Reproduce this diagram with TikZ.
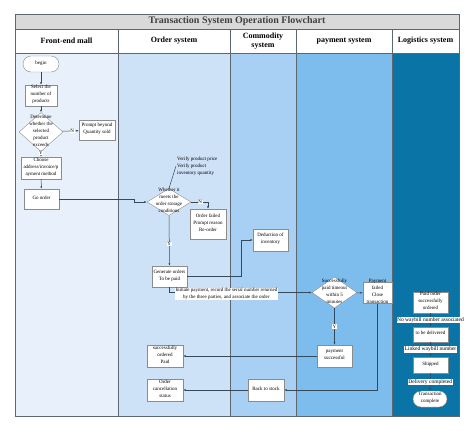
\documentclass[tikz,border=0pt]{standalone}
\usepackage{fontspec}
\setmainfont{Liberation Serif}
\usetikzlibrary{calc}
\usetikzlibrary{positioning}
\usetikzlibrary{shapes.geometric}
\usetikzlibrary{arrows.meta}
\definecolor{laneA}{HTML}{E8F1FB}
\definecolor{laneB}{HTML}{CDE2F7}
\definecolor{laneC}{HTML}{A8CFF4}
\definecolor{laneD}{HTML}{7DBDEE}
\definecolor{laneE}{HTML}{0B74A7}
\definecolor{titlegray}{HTML}{D9D9D9}
\definecolor{boxgray}{HTML}{8C8C8C}
\definecolor{linegray}{HTML}{34495C}
\definecolor{framegray}{HTML}{5E6670}
\tikzstyle{procnode} = [draw=boxgray, fill=white, rectangle, inner sep=0pt, minimum width=35pt, minimum height=21pt]
\tikzstyle{decnode} = [draw=boxgray, fill=white, diamond, inner sep=0pt, minimum width=44pt, minimum height=28pt]
\tikzstyle{termnode} = [procnode, rounded corners=8pt, minimum height=16pt]
\tikzstyle{flowline} = [draw=linegray, line width=0.5pt, ->]
\tikzstyle{flowlabel} = [fill=white, inner sep=0.5pt]
\tikzstyle{loglabel} = [fill=white, inner sep=0.6pt, font=\fontsize{5.5}{6.5}\selectfont]
\tikzstyle{lanehead} = [font=\bfseries\fontsize{8}{9}\selectfont, align=center]
\newcommand{\boxtext}[1]{\makebox[0pt]{\smash{\begin{tabular}{@{}c@{}}#1\end{tabular}}}}

\begin{document}
\begin{tikzpicture}[x=1pt, y=-1pt, >={Latex[length=2.4pt,width=2pt]}, font=\fontsize{5}{7}\selectfont]
    \useasboundingbox (0,0) rectangle (474,431);

    % swimlanes
    \fill[laneA] (15,53) rectangle (118,416);
    \fill[laneB] (118,53) rectangle (230,416);
    \fill[laneC] (230,53) rectangle (296,416);
    \fill[laneD] (296,53) rectangle (392,416);
    \fill[laneE] (392,53) rectangle (459,416);
    \fill[white] (15,29) rectangle (459,53);
    \draw[framegray, line width=0.6pt] (15,14) rectangle (459,416);
    \draw[framegray, line width=0.6pt] (15,29) -- (459,29);
    \draw[framegray, line width=0.6pt] (15,53) -- (459,53);
    \foreach \xx in {118,230,296,392} {
        \draw[framegray, line width=0.6pt] (\xx,29) -- (\xx,416);
    }

    \node[fill=titlegray, draw=framegray, line width=0.6pt, minimum width=444pt, minimum height=15pt, inner sep=0pt,
          font=\bfseries\fontsize{10}{11}\selectfont, text=black!75] (title) at (237,21.5) {Transaction System Operation Flowchart};
    \node[lanehead] (head_front) at (66.5,41) {Front-end mall};
    \node[lanehead] (head_order) at (174,41) {Order system};
    \node[lanehead] (head_goods) at (263,41) {Commodity\\system};
    \node[lanehead] (head_pay) at (344,41) {payment system};
    \node[lanehead] (head_log) at (425.5,41) {Logistics system};

    % front-end mall
    \node[termnode, minimum width=36pt] (begin) at (41,64) {\boxtext{begin}};
    \node[procnode, minimum width=32pt] (select) at (41,95.5) {\boxtext{Select the\\number of\\products}};
    \node[decnode, minimum height=39pt] (determine) at (41,132) {\boxtext{Determine\\whether the\\selected\\product\\exceeds}};
    \node[procnode, minimum width=36pt, minimum height=20pt] (prompt) at ($(determine)+(56,-2)$) {\boxtext{Prompt beyond\\Quantity sold}};
    \node[procnode, minimum width=40pt, minimum height=22pt] (choose) at (41,168) {\boxtext{Choose\\address/invoice/p\\ayment method}};
    \node[procnode, minimum height=20pt] (goorder) at ($(choose)+(0.5,31)$) {\boxtext{Go order}};

    % order system
    \node[decnode, minimum height=27pt] (storage) at (169,202) {\boxtext{Whether it\\meets the\\order storage\\conditions}};
    \node[align=left, anchor=west, inner sep=1pt] (verify) at (176,166) {Verify product price\\Verify product\\inventory quantity};
    \node[procnode, minimum width=36pt, minimum height=30pt] (failed) at ($(storage)+(39,22)$) {\boxtext{Order failed\\Prompt reason\\Re-order}};
    \node[procnode] (gen) at (169.5,276.5) {\boxtext{Generate orders\\To be paid}};
    \node[procnode, minimum width=36pt, minimum height=22pt] (paid) at (165,356) {\boxtext{successfully\\ordered\\Paid}};
    \node[procnode, minimum width=36pt, minimum height=22pt] (cancel) at ($(paid)+(0,34)$) {\boxtext{Order\\cancellation\\status}};

    % commodity system
    \node[procnode, minimum height=22pt] (deduct) at (270.5,240) {\boxtext{Deduction of\\inventory}};
    \node[procnode, minimum width=36pt, minimum height=22pt] (backstock) at (266,390) {\boxtext{Back to stock}};

    % payment system
    \node[decnode, minimum width=45pt, minimum height=31pt] (paydia) at (334.5,292.5) {\boxtext{Successfully\\paid timeout\\within 5\\minutes}};
    \node[procnode, minimum width=29pt, minimum height=21pt] (payfail) at ($(paydia)+(43,0.5)$) {\boxtext{Payment\\failed\\Close\\transaction}};
    \node[procnode, minimum height=22pt] (paysucc) at ($(paydia)+(0,63.5)$) {\boxtext{payment\\successful}};

    % logistics system
    \node[procnode] (paidorder) at (430.5,302.5) {\boxtext{Paid order\\successfully\\ordered}};
    \node[procnode, minimum height=15pt] (tobedel) at ($(paidorder)+(0,32)$) {\boxtext{to be delivered}};
    \node[procnode, minimum height=16pt] (shipped) at ($(tobedel)+(0,30.5)$) {\boxtext{Shipped}};
    \node[termnode, minimum width=34pt] (complete) at ($(shipped)+(-0.5,34)$) {\boxtext{Transaction\\complete}};

    \coordinate (jog) at (134,199);
    \coordinate (stockbend) at (241,276.5);

    \draw[flowline] (begin) -- (select);
    \draw[flowline] (select) -- (determine);
    \draw[flowline] (determine) -- node[flowlabel, pos=0.6] {N} (prompt);
    \draw[flowline] (determine) -- node[flowlabel, pos=0.25] {Y} (choose);
    \draw[flowline] (choose) -- (goorder);
    \draw[flowline] (goorder.east) -- (jog) |- (storage.west);
    \draw[linegray, line width=0.5pt] (verify.west) -- (storage.north);
    \draw[flowline] (storage.east) -| node[flowlabel, pos=0.27] {N} (failed.north);
    \draw[flowline] (storage) -- node[flowlabel, pos=0.57] {Y} (gen);
    \draw[flowline] (gen.east) -- (stockbend) |- (deduct.west);
    \draw[flowline] (gen.south) |- node[flowlabel, pos=0.7, yshift=-1.5pt, align=center] {Initiate payment, record the serial number returned\\by the three parties, and associate the order} (paydia.west);
    \draw[flowline] (paydia) -- (payfail);
    \draw[flowline] (paydia) -- node[flowlabel] {Y} (paysucc);
    \draw[flowline] (paysucc) -- (paid);
    \draw[flowline] (payfail.south) |- (backstock.east);
    \draw[flowline] (backstock) -- (cancel);

    \draw[flowline] (paidorder) -- node[loglabel] {No waybill number associated} (tobedel);
    \draw[flowline] (tobedel) -- node[loglabel] {Linked waybill number} (shipped);
    \draw[flowline] (shipped) -- node[loglabel] {Delivery completed} (complete);
\end{tikzpicture}
\end{document}
